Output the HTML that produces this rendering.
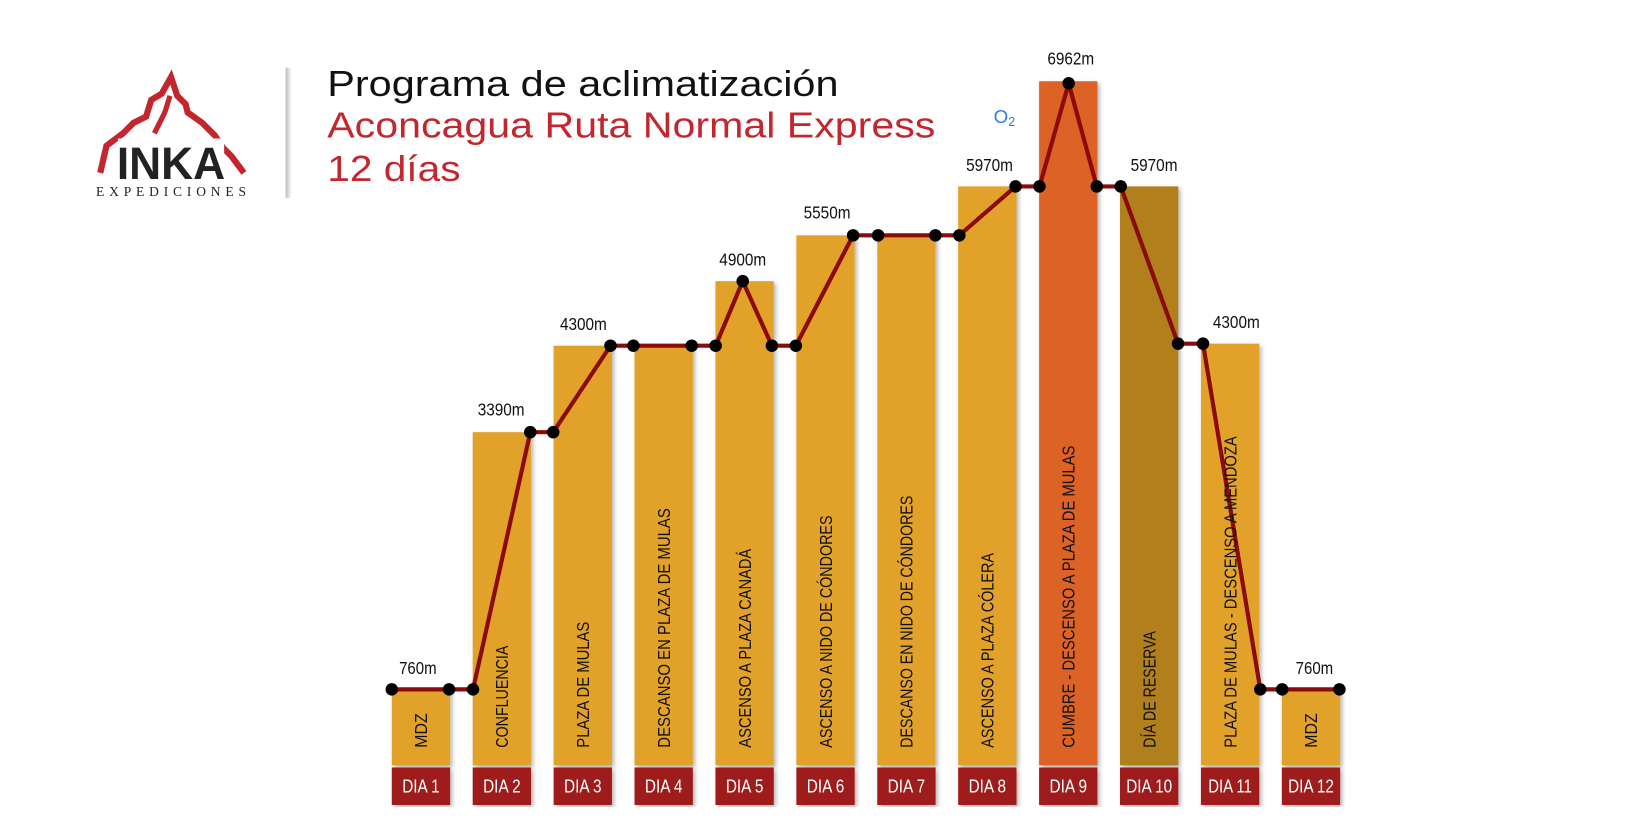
<!DOCTYPE html>
<html><head><meta charset="utf-8"><style>
html,body{margin:0;padding:0;background:#fff;}
svg{display:block;}
.n{font-family:"Liberation Sans Narrow","Liberation Sans",sans-serif;}
</style></head><body>
<svg width="1625" height="831" viewBox="0 0 1560 798" xmlns="http://www.w3.org/2000/svg">
<defs>
<linearGradient id="sep" x1="0" x2="1"><stop offset="0" stop-color="#bbb"/><stop offset="1" stop-color="#fff"/></linearGradient>
<filter id="sh" x="-20%" y="-5%" width="140%" height="110%"><feDropShadow dx="2" dy="2" stdDeviation="2" flood-color="#000" flood-opacity="0.3"/></filter>
</defs>
<!-- logo -->
<path d="M96,166 L102,140 L118,128 L128,118 L140,112 L145,96 L155,90 L164,74 L170,92 L178,100 L180,108 L194,118 L206,130 L214,142 L222,150 L234,166" fill="none" stroke="#c4262e" stroke-width="6" stroke-linejoin="miter"/>
<path d="M148,128 L158,108 L163,92" fill="none" stroke="#c4262e" stroke-width="5"/>
<rect x="113" y="133" width="102" height="40" fill="#fff"/>
<text x="112" y="172" font-family="Liberation Sans" font-weight="bold" font-size="44" fill="#222" textLength="104" lengthAdjust="spacingAndGlyphs">INKA</text>
<text x="92" y="188" font-family="Liberation Serif" font-size="13" fill="#222" textLength="144" lengthAdjust="spacing">EXPEDICIONES</text>
<rect x="274" y="65" width="6" height="125" fill="url(#sep)"/>
<!-- title -->
<text x="314" y="92" font-family="Liberation Sans" font-size="35" fill="#111" textLength="491" lengthAdjust="spacingAndGlyphs">Programa de aclimatización</text>
<text x="314" y="132" font-family="Liberation Sans" font-size="35" fill="#c4262e" textLength="584" lengthAdjust="spacingAndGlyphs">Aconcagua Ruta Normal Express</text>
<text x="314" y="174" font-family="Liberation Sans" font-size="35" fill="#c4262e" textLength="128" lengthAdjust="spacingAndGlyphs">12 días</text>
<text x="954" y="118" font-family="Liberation Sans" font-size="18" fill="#2a7de1">O<tspan font-size="12" dy="3">2</tspan></text>
<!-- bars -->
<g filter="url(#sh)">
<rect x="376" y="662" width="56" height="73" fill="#e2a229"/>
<rect x="453.7" y="415" width="56" height="320" fill="#e2a229"/>
<rect x="531.4" y="332" width="56" height="403" fill="#e2a229"/>
<rect x="609.1" y="332" width="56" height="403" fill="#e2a229"/>
<rect x="686.8" y="270" width="56" height="465" fill="#e2a229"/>
<rect x="764.5" y="226" width="56" height="509" fill="#e2a229"/>
<rect x="842.2" y="226" width="56" height="509" fill="#e2a229"/>
<rect x="919.9" y="179" width="56" height="556" fill="#e2a229"/>
<rect x="997.6" y="78" width="56" height="657" fill="#dd6228"/>
<rect x="1075.3" y="179" width="56" height="556" fill="#b17f1f"/>
<rect x="1153" y="330" width="56" height="405" fill="#e2a229"/>
<rect x="1230.7" y="662" width="56" height="73" fill="#e2a229"/>
</g>
<g filter="url(#sh)" fill="#9e1a1f">
<rect x="376" y="737" width="56" height="36"/><rect x="453.7" y="737" width="56" height="36"/><rect x="531.4" y="737" width="56" height="36"/><rect x="609.1" y="737" width="56" height="36"/><rect x="686.8" y="737" width="56" height="36"/><rect x="764.5" y="737" width="56" height="36"/><rect x="842.2" y="737" width="56" height="36"/><rect x="919.9" y="737" width="56" height="36"/><rect x="997.6" y="737" width="56" height="36"/><rect x="1075.3" y="737" width="56" height="36"/><rect x="1153" y="737" width="56" height="36"/><rect x="1230.7" y="737" width="56" height="36"/>
</g>
<g class="n" font-size="18" fill="#fff" text-anchor="middle" lengthAdjust="spacingAndGlyphs">
<text x="404" y="761" textLength="36" lengthAdjust="spacingAndGlyphs">DIA 1</text><text x="481.7" y="761" textLength="36" lengthAdjust="spacingAndGlyphs">DIA 2</text><text x="559.4" y="761" textLength="36" lengthAdjust="spacingAndGlyphs">DIA 3</text><text x="637.1" y="761" textLength="36" lengthAdjust="spacingAndGlyphs">DIA 4</text><text x="714.8" y="761" textLength="36" lengthAdjust="spacingAndGlyphs">DIA 5</text><text x="792.5" y="761" textLength="36" lengthAdjust="spacingAndGlyphs">DIA 6</text><text x="870.2" y="761" textLength="36" lengthAdjust="spacingAndGlyphs">DIA 7</text><text x="947.9" y="761" textLength="36" lengthAdjust="spacingAndGlyphs">DIA 8</text><text x="1025.6" y="761" textLength="36" lengthAdjust="spacingAndGlyphs">DIA 9</text><text x="1103.3" y="761" textLength="44" lengthAdjust="spacingAndGlyphs">DIA 10</text><text x="1181" y="761" textLength="42" lengthAdjust="spacingAndGlyphs">DIA 11</text><text x="1258.7" y="761" textLength="44" lengthAdjust="spacingAndGlyphs">DIA 12</text>
</g>
<!-- line -->
<polyline points="376,662 431,662 454,662 509,415 531,415 586,332 608,332 664,332 687,332 713,270 741,332 764,332 819,226 843,226 898,226 921,226 975,179 998,179 1026,80 1053,179 1076,179 1131,330 1155,330 1210,662 1231,662 1286,662" fill="none" stroke="#8b0a0a" stroke-width="4" stroke-linejoin="round"/>
<g fill="#000">
<circle cx="376" cy="662" r="6"/><circle cx="431" cy="662" r="6"/><circle cx="454" cy="662" r="6"/><circle cx="509" cy="415" r="6"/><circle cx="531" cy="415" r="6"/><circle cx="586" cy="332" r="6"/><circle cx="608" cy="332" r="6"/><circle cx="664" cy="332" r="6"/><circle cx="687" cy="332" r="6"/><circle cx="713" cy="270" r="6"/><circle cx="741" cy="332" r="6"/><circle cx="764" cy="332" r="6"/><circle cx="819" cy="226" r="6"/><circle cx="843" cy="226" r="6"/><circle cx="898" cy="226" r="6"/><circle cx="921" cy="226" r="6"/><circle cx="975" cy="179" r="6"/><circle cx="998" cy="179" r="6"/><circle cx="1026" cy="80" r="6"/><circle cx="1053" cy="179" r="6"/><circle cx="1076" cy="179" r="6"/><circle cx="1131" cy="330" r="6"/><circle cx="1155" cy="330" r="6"/><circle cx="1210" cy="662" r="6"/><circle cx="1231" cy="662" r="6"/><circle cx="1286" cy="662" r="6"/>
</g>
<!-- value labels -->
<g class="n" font-size="17" fill="#111" text-anchor="middle">
<text x="401" y="647" textLength="36" lengthAdjust="spacingAndGlyphs">760m</text><text x="481" y="399" textLength="45" lengthAdjust="spacingAndGlyphs">3390m</text><text x="560" y="317" textLength="45" lengthAdjust="spacingAndGlyphs">4300m</text><text x="713" y="255" textLength="45" lengthAdjust="spacingAndGlyphs">4900m</text><text x="794" y="210" textLength="45" lengthAdjust="spacingAndGlyphs">5550m</text><text x="950" y="164" textLength="45" lengthAdjust="spacingAndGlyphs">5970m</text><text x="1028" y="62" textLength="45" lengthAdjust="spacingAndGlyphs">6962m</text><text x="1108" y="164" textLength="45" lengthAdjust="spacingAndGlyphs">5970m</text><text x="1187" y="315" textLength="45" lengthAdjust="spacingAndGlyphs">4300m</text><text x="1262" y="647" textLength="36" lengthAdjust="spacingAndGlyphs">760m</text>
</g>
<!-- vertical labels -->
<g class="n" font-size="17" fill="#111">
<text transform="translate(410,718) rotate(-90)" textLength="33" lengthAdjust="spacingAndGlyphs">MDZ</text>
<text transform="translate(487.7,718) rotate(-90)" textLength="98" lengthAdjust="spacingAndGlyphs">CONFLUENCIA</text>
<text transform="translate(565.4,718) rotate(-90)" textLength="121" lengthAdjust="spacingAndGlyphs">PLAZA DE MULAS</text>
<text transform="translate(643.1,718) rotate(-90)" textLength="230" lengthAdjust="spacingAndGlyphs">DESCANSO EN  PLAZA DE MULAS</text>
<text transform="translate(720.8,718) rotate(-90)" textLength="191" lengthAdjust="spacingAndGlyphs">ASCENSO A  PLAZA CANADÁ</text>
<text transform="translate(798.5,718) rotate(-90)" textLength="223" lengthAdjust="spacingAndGlyphs">ASCENSO A NIDO DE CÓNDORES</text>
<text transform="translate(876.2,718) rotate(-90)" textLength="242" lengthAdjust="spacingAndGlyphs">DESCANSO EN NIDO DE CÓNDORES</text>
<text transform="translate(953.9,718) rotate(-90)" textLength="187" lengthAdjust="spacingAndGlyphs">ASCENSO A PLAZA CÓLERA</text>
<text transform="translate(1031.6,718) rotate(-90)" textLength="290" lengthAdjust="spacingAndGlyphs">CUMBRE - DESCENSO A PLAZA DE MULAS</text>
<text transform="translate(1109.3,718) rotate(-90)" textLength="112" lengthAdjust="spacingAndGlyphs">DÍA DE RESERVA</text>
<text transform="translate(1187,718) rotate(-90)" textLength="299" lengthAdjust="spacingAndGlyphs">PLAZA DE MULAS - DESCENSO A MENDOZA</text>
<text transform="translate(1264.7,718) rotate(-90)" textLength="33" lengthAdjust="spacingAndGlyphs">MDZ</text>
</g>
</svg>
</body></html>
